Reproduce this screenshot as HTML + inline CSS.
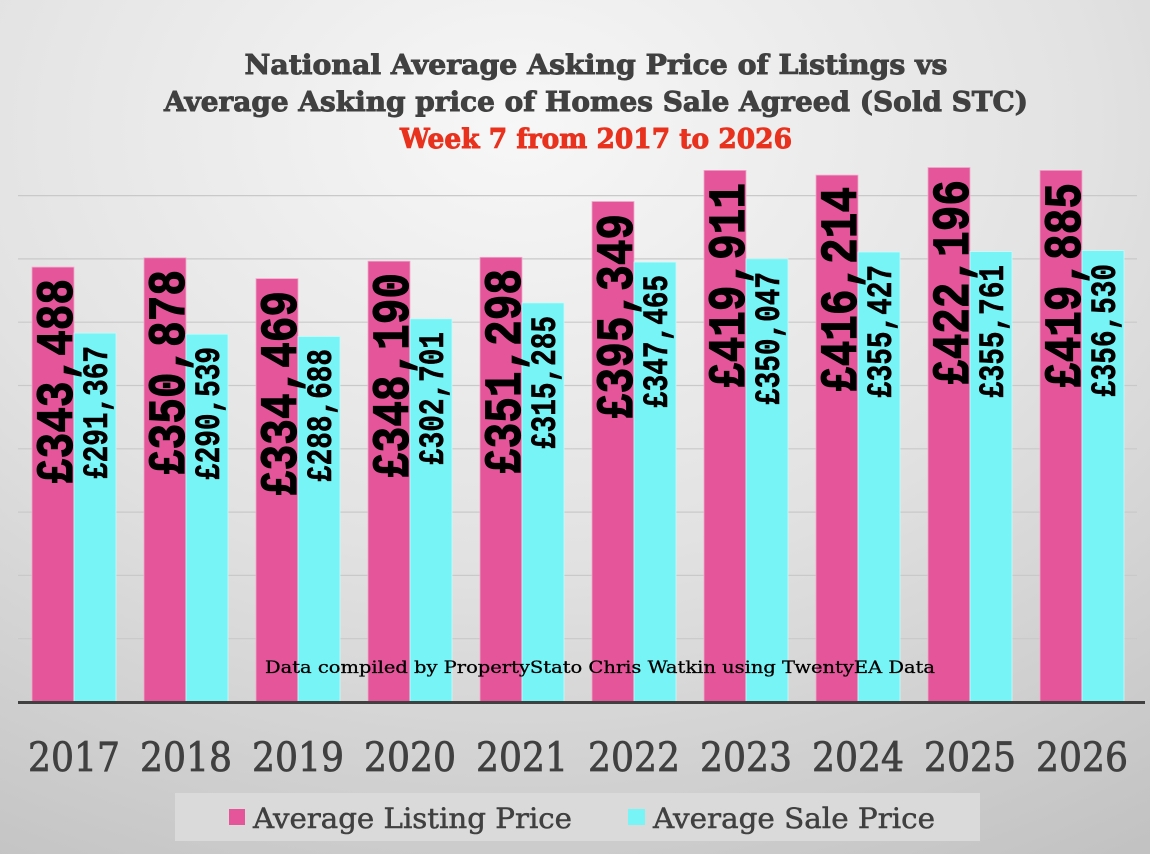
<!DOCTYPE html>
<html><head><meta charset="utf-8"><style>
html,body{margin:0;padding:0}
body{width:1150px;height:854px;overflow:hidden}
</style></head><body>
<svg width="1150" height="854" xmlns="http://www.w3.org/2000/svg">
<defs>
<radialGradient id="bg" cx="0.45" cy="0.15" r="1.0">
<stop offset="0" stop-color="#f7f7f7"/>
<stop offset="0.5" stop-color="#e2e2e2"/>
<stop offset="1" stop-color="#c2c2c2"/>
</radialGradient>
</defs>
<rect width="1150" height="854" fill="url(#bg)"/>
<g stroke="#c9c9c9" stroke-width="1.2">
<line x1="18" x2="1137" y1="195.6" y2="195.6"/>
<line x1="18" x2="1137" y1="258.9" y2="258.9"/>
<line x1="18" x2="1137" y1="322.2" y2="322.2"/>
<line x1="18" x2="1137" y1="385.5" y2="385.5"/>
<line x1="18" x2="1137" y1="448.8" y2="448.8"/>
<line x1="18" x2="1137" y1="512.1" y2="512.1"/>
<line x1="18" x2="1137" y1="575.4" y2="575.4"/>
<line x1="18" x2="1137" y1="638.7" y2="638.7"/>
</g>
<g font-family="'DejaVu Serif', 'Liberation Serif', serif" font-weight="bold" text-anchor="middle" stroke-width="0.9">
<text x="596" y="74" font-size="27" fill="#404040" stroke="#404040" textLength="703" lengthAdjust="spacingAndGlyphs">National Average Asking Price of Listings vs</text>
<text x="596" y="111" font-size="27" fill="#404040" stroke="#404040" textLength="864" lengthAdjust="spacingAndGlyphs">Average Asking price of Homes Sale Agreed (Sold STC)</text>
<text x="596" y="148" font-size="27" fill="#e8321e" stroke="#e8321e" textLength="392" lengthAdjust="spacingAndGlyphs">Week 7 from 2017 to 2026</text>
</g>
<g fill="#e5559a" stroke="#f3a9cc" stroke-width="0.8">
<rect x="32" y="267.1" width="42" height="434.9"/>
<rect x="144" y="257.8" width="42" height="444.2"/>
<rect x="256" y="278.6" width="42" height="423.4"/>
<rect x="368" y="261.2" width="42" height="440.8"/>
<rect x="480" y="257.3" width="42" height="444.7"/>
<rect x="592" y="201.5" width="42" height="500.5"/>
<rect x="704" y="170.4" width="42" height="531.6"/>
<rect x="816" y="175.1" width="42" height="526.9"/>
<rect x="928" y="167.5" width="42" height="534.5"/>
<rect x="1040" y="170.4" width="42" height="531.6"/>
</g>
<g fill="#76f4f6" stroke="#c8fafa" stroke-width="0.8">
<rect x="74" y="333.1" width="42" height="368.9"/>
<rect x="186" y="334.2" width="42" height="367.8"/>
<rect x="298" y="336.5" width="42" height="365.5"/>
<rect x="410" y="318.8" width="42" height="383.2"/>
<rect x="522" y="302.9" width="42" height="399.1"/>
<rect x="634" y="262.1" width="42" height="439.9"/>
<rect x="746" y="258.8" width="42" height="443.2"/>
<rect x="858" y="252" width="42" height="450"/>
<rect x="970" y="251.6" width="42" height="450.4"/>
<rect x="1082" y="250.6" width="42" height="451.4"/>
</g>
<g font-family="'Liberation Mono', monospace" font-weight="bold" fill="#000" stroke="#000" stroke-width="1.2" text-anchor="end" font-size="52">
<text transform="translate(72,279) rotate(-90)" textLength="205" lengthAdjust="spacingAndGlyphs">£343,488</text>
<text transform="translate(184,270) rotate(-90)" textLength="205" lengthAdjust="spacingAndGlyphs">£350,878</text>
<text transform="translate(296,291) rotate(-90)" textLength="205" lengthAdjust="spacingAndGlyphs">£334,469</text>
<text transform="translate(408,273) rotate(-90)" textLength="205" lengthAdjust="spacingAndGlyphs">£348,190</text>
<text transform="translate(520,269) rotate(-90)" textLength="205" lengthAdjust="spacingAndGlyphs">£351,298</text>
<text transform="translate(632,214) rotate(-90)" textLength="205" lengthAdjust="spacingAndGlyphs">£395,349</text>
<text transform="translate(744,183) rotate(-90)" textLength="205" lengthAdjust="spacingAndGlyphs">£419,911</text>
<text transform="translate(856,187) rotate(-90)" textLength="205" lengthAdjust="spacingAndGlyphs">£416,214</text>
<text transform="translate(968,180) rotate(-90)" textLength="205" lengthAdjust="spacingAndGlyphs">£422,196</text>
<text transform="translate(1080,183) rotate(-90)" textLength="205" lengthAdjust="spacingAndGlyphs">£419,885</text>
</g>
<g font-family="'Liberation Mono', monospace" font-weight="bold" fill="#000" stroke="#000" stroke-width="0.6" text-anchor="end" font-size="35">
<text transform="translate(107,346) rotate(-90)" textLength="133" lengthAdjust="spacingAndGlyphs">£291,367</text>
<text transform="translate(219,347) rotate(-90)" textLength="133" lengthAdjust="spacingAndGlyphs">£290,539</text>
<text transform="translate(331,349) rotate(-90)" textLength="133" lengthAdjust="spacingAndGlyphs">£288,688</text>
<text transform="translate(443,332) rotate(-90)" textLength="133" lengthAdjust="spacingAndGlyphs">£302,701</text>
<text transform="translate(555,316) rotate(-90)" textLength="133" lengthAdjust="spacingAndGlyphs">£315,285</text>
<text transform="translate(667,275) rotate(-90)" textLength="133" lengthAdjust="spacingAndGlyphs">£347,465</text>
<text transform="translate(779,272) rotate(-90)" textLength="133" lengthAdjust="spacingAndGlyphs">£350,047</text>
<text transform="translate(891,265) rotate(-90)" textLength="133" lengthAdjust="spacingAndGlyphs">£355,427</text>
<text transform="translate(1003,265) rotate(-90)" textLength="133" lengthAdjust="spacingAndGlyphs">£355,761</text>
<text transform="translate(1115,264) rotate(-90)" textLength="133" lengthAdjust="spacingAndGlyphs">£356,530</text>
</g>
<text x="600" y="673" font-family="'DejaVu Serif', serif" font-size="17" fill="#000" stroke="#000" stroke-width="0.3" text-anchor="middle" textLength="670" lengthAdjust="spacingAndGlyphs">Data compiled by PropertyStato Chris Watkin using TwentyEA Data</text>
<line x1="18" x2="1145" y1="702.5" y2="702.5" stroke="#404040" stroke-width="3"/>
<g font-family="'DejaVu Serif', 'Liberation Serif', serif" font-size="40" fill="#404040" stroke="#404040" stroke-width="0.8" text-anchor="middle">
<text x="74" y="771" textLength="92" lengthAdjust="spacingAndGlyphs">2017</text>
<text x="186" y="771" textLength="92" lengthAdjust="spacingAndGlyphs">2018</text>
<text x="298" y="771" textLength="92" lengthAdjust="spacingAndGlyphs">2019</text>
<text x="410" y="771" textLength="92" lengthAdjust="spacingAndGlyphs">2020</text>
<text x="522" y="771" textLength="92" lengthAdjust="spacingAndGlyphs">2021</text>
<text x="634" y="771" textLength="92" lengthAdjust="spacingAndGlyphs">2022</text>
<text x="746" y="771" textLength="92" lengthAdjust="spacingAndGlyphs">2023</text>
<text x="858" y="771" textLength="92" lengthAdjust="spacingAndGlyphs">2024</text>
<text x="970" y="771" textLength="92" lengthAdjust="spacingAndGlyphs">2025</text>
<text x="1082" y="771" textLength="92" lengthAdjust="spacingAndGlyphs">2026</text>
</g>
<rect x="175" y="793" width="805" height="48" fill="#dadada"/>
<rect x="229" y="809" width="16" height="16" fill="#e5559a"/>
<rect x="628" y="809" width="17" height="16" fill="#76f4f6"/>
<g font-family="'DejaVu Serif', 'Liberation Serif', serif" font-size="28" fill="#404040" stroke="#404040" stroke-width="0.5">
<text x="253" y="828" textLength="319" lengthAdjust="spacingAndGlyphs">Average Listing Price</text>
<text x="653" y="828" textLength="282" lengthAdjust="spacingAndGlyphs">Average Sale Price</text>
</g>
</svg>
</body></html>
